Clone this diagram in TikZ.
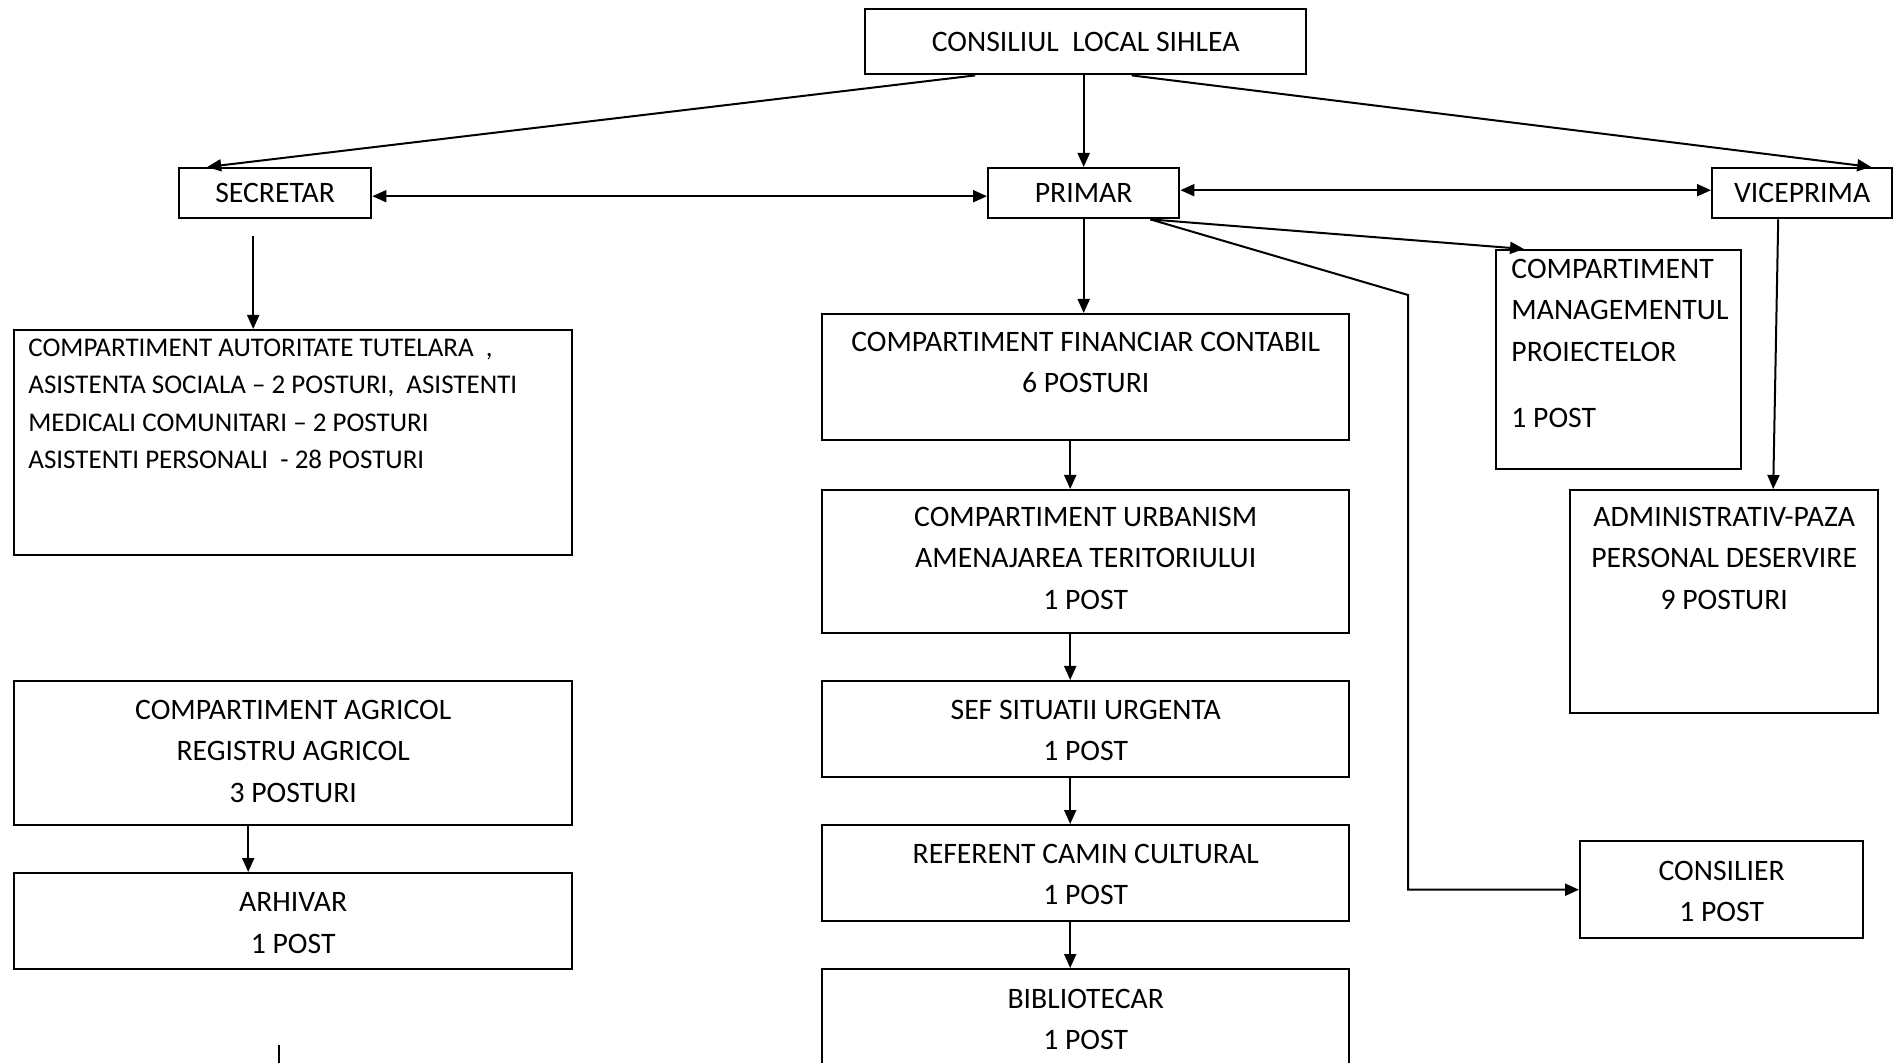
\documentclass[tikz,border=0pt]{standalone}
\usepackage{fontspec}
\setmainfont{Carlito}
\usepackage{tikz}
\usetikzlibrary{positioning,arrows.meta}
\tikzstyle{caseta} = [draw, line width=1.2pt, rectangle, inner sep=0pt, anchor=north west, align=center, font=\fontsize{14.85}{20.75}\selectfont]
\tikzstyle{scris} = [inner sep=0pt, align=center, font=\fontsize{14.85}{20.75}\selectfont]
\tikzstyle{sageata} = [line width=1pt, -{Triangle[length=7pt,width=6pt]}]
\tikzstyle{dublu} = [line width=1pt, {Triangle[length=7pt,width=6pt]}-{Triangle[length=7pt,width=6pt]}]

\begin{document}
\begin{tikzpicture}[x=0.5pt,y=-0.5pt]
\useasboundingbox (0,0) rectangle (1901,1063);
% primul nivel
\node[caseta, minimum width=220.5pt, minimum height=32.5pt] (consiliu) at (864,8) {CONSILIUL\ \ LOCAL SIHLEA};
\node[caseta, minimum width=96pt, minimum height=25pt] (secretar) at (178,167) {SECRETAR};
\node[caseta, minimum width=95.5pt, minimum height=25pt] (primar) at (987,167) {PRIMAR};
\node[caseta, minimum width=90pt, minimum height=25pt] (vice) at (1711,167) {VICEPRIMA};
% compartimente
\node[caseta, minimum width=279pt, minimum height=112.5pt] (tut) at (13,329) {};
\node[scris, align=left, font=\fontsize{13.5}{18.75}\selectfont, below right=4.6pt and 7.5pt of tut.north west] (ttut) {COMPARTIMENT AUTORITATE TUTELARA~ ,\\ASISTENTA SOCIALA – 2 POSTURI,~ ASISTENTI\\MEDICALI COMUNITARI – 2 POSTURI\\ASISTENTI PERSONALI~ - 28 POSTURI};
\node[caseta, minimum width=263.5pt, minimum height=63pt] (fin) at (821,313) {};
\node[scris, below=9.2pt of fin.north] (tfin) {COMPARTIMENT FINANCIAR CONTABIL\\6 POSTURI};
\node[caseta, minimum width=122.5pt, minimum height=109.5pt] (man) at (1495,249) {};
\node[scris, align=left, below right=4.7pt and 8pt of man.north west] (tman) {COMPARTIMENT\\MANAGEMENTUL\\PROIECTELOR\\[12.5pt]1 POST};
\node[caseta, minimum width=263.5pt, minimum height=71.5pt] (urb) at (821,489) {};
\node[scris, below=8.7pt of urb.north] (turb) {COMPARTIMENT URBANISM\\AMENAJAREA TERITORIULUI\\1 POST};
\node[caseta, minimum width=154pt, minimum height=111.5pt] (adm) at (1569,489) {};
\node[scris, below=8.7pt of adm.north] (tadm) {ADMINISTRATIV-PAZA\\PERSONAL DESERVIRE\\9 POSTURI};
\node[caseta, minimum width=279pt, minimum height=72pt] (agr) at (13,680) {};
\node[scris, below=9.7pt of agr.north] (tagr) {COMPARTIMENT AGRICOL\\REGISTRU AGRICOL\\3 POSTURI};
\node[caseta, minimum width=263.5pt, minimum height=48pt] (sef) at (821,680) {};
\node[scris, below=9.7pt of sef.north] (tsef) {SEF SITUATII URGENTA\\1 POST};
\node[caseta, minimum width=279pt, minimum height=48pt] (arh) at (13,872) {};
\node[scris, below=10.2pt of arh.north] (tarh) {ARHIVAR\\1 POST};
\node[caseta, minimum width=263.5pt, minimum height=48pt] (ref) at (821,824) {};
\node[scris, below=9.7pt of ref.north] (tref) {REFERENT CAMIN CULTURAL\\1 POST};
\node[caseta, minimum width=141.5pt, minimum height=48.5pt] (cons) at (1579,840) {};
\node[scris, below=10.2pt of cons.north] (tcons) {CONSILIER\\1 POST};
\node[caseta, minimum width=263.5pt, minimum height=60pt] (bib) at (821,968) {};
\node[scris, below=10.2pt of bib.north] (tbib) {BIBLIOTECAR\\1 POST};
% legaturi
\draw[sageata] ([xshift=-55.25pt]consiliu.south) -- ([xshift=-34pt]secretar.north);
\draw[sageata] (primar.north |- consiliu.south) -- (primar.north);
\draw[sageata] ([xshift=23pt]consiliu.south) -- ([xshift=34.5pt]vice.north);
\draw[dublu] ([yshift=-1.5pt]secretar.east) -- ([yshift=-1.5pt]secretar.east -| primar.west);
\draw[dublu] ([yshift=1.5pt]primar.east) -- ([yshift=1.5pt]primar.east -| vice.west);
\draw[sageata] ([xshift=-11pt,yshift=-8.5pt]secretar.south) -- ([xshift=-20pt]tut.north);
\draw[sageata] (primar.south) -- (primar.south |- fin.north);
\draw[sageata] ([xshift=-15pt]primar.south east) -- ([xshift=14.5pt]man.north west);
\coordinate (cot) at (1408,295);
\draw[sageata] ([xshift=-15pt]primar.south east) -- (cot) -- (cot |- cons.west) -- (cons.west);
\draw[sageata] ([xshift=-12pt]vice.south) -- ([xshift=24.5pt]adm.north);
\foreach \a/\b in {fin/urb, urb/sef, sef/ref, ref/bib}
  \draw[sageata] ([xshift=-7.75pt]\a.south) -- ([xshift=-7.75pt]\b.north);
\draw[sageata] ([xshift=-22.5pt]agr.south) -- ([xshift=-22.5pt]arh.north);
\coordinate (jos) at (279,1045);
\draw[line width=1pt] (jos) -- ++(0,30);
\end{tikzpicture}
\end{document}
